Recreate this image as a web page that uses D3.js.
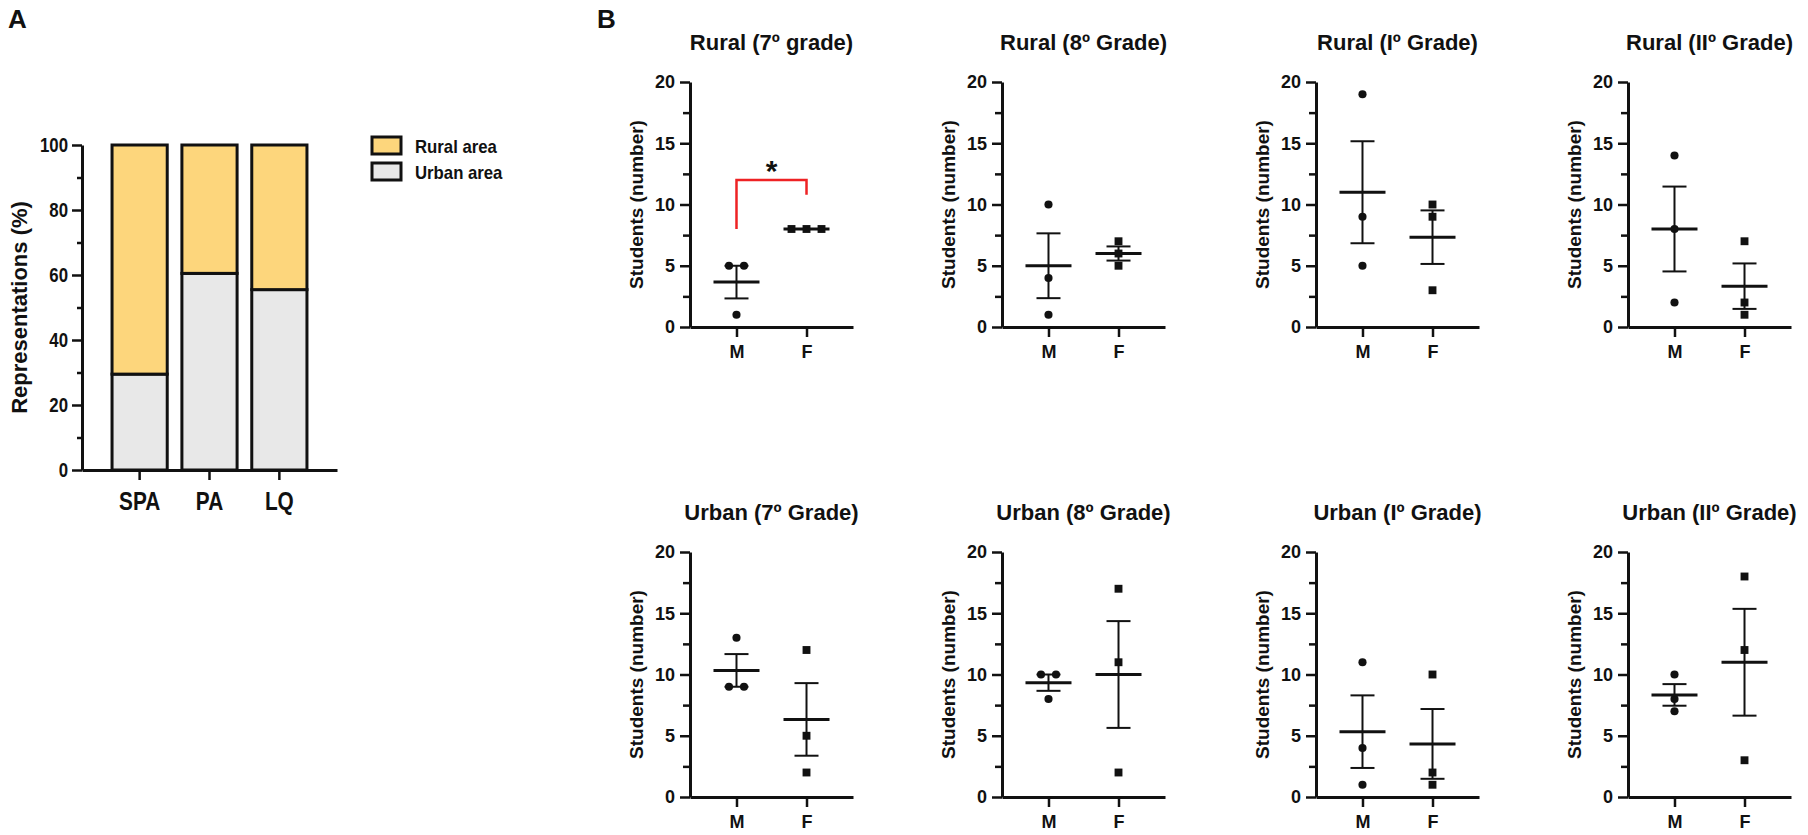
<!DOCTYPE html>
<html>
<head>
<meta charset="utf-8">
<script src="https://cdn.jsdelivr.net/npm/d3@7"></script>
<style>
  body { margin: 0; background: #fff; }
  text { font-family: "Liberation Sans", Arial, sans-serif; font-weight: bold; fill: #111; }
</style>
</head>
<body>
<div id="chart"></div>
<script>
// Panel A: share of representations by area
const sites = ["SPA", "PA", "LQ"];
const urbanShare = [29.5, 60.5, 55.5];
const ruralShare = [70.5, 39.5, 44.5];
const shareTicks = [0, 20, 40, 60, 80, 100];
const legendLabels = ["Rural area", "Urban area"];

// Panel B: students per grade and sex
const sexes = ["M", "F"];
const panelTitles = [
    "Rural (7º grade)", "Rural (8º Grade)", "Rural (Iº Grade)", "Rural (IIº Grade)",
    "Urban (7º Grade)", "Urban (8º Grade)", "Urban (Iº Grade)", "Urban (IIº Grade)"
];
const maleCounts = [[5, 5, 1], [10, 4, 1], [19, 9, 5], [14, 8, 2], [13, 9, 9], [10, 10, 8], [11, 4, 1], [10, 8, 7]];
const femaleCounts = [[8, 8, 8], [7, 6, 5], [10, 9, 3], [7, 2, 1], [12, 5, 2], [17, 11, 2], [10, 2, 1], [18, 12, 3]];
const countTicks = [0, 5, 10, 15, 20];
// significance bracket (values in students)
const brackets = [{ panel: 0, from: "M", to: "F", leftEnd: 8, top: 12, rightEnd: 10.8, label: "*" }];

const ruralColor = "#fdd67c";
const urbanColor = "#e8e8e8";
const ink = "#111";
const narrow = 0.8; // panel A text is a condensed face, squeeze Liberation Sans

const svg = d3.select("#chart")
    .append("svg")
    .attr("width", 1808)
    .attr("height", 835);

// ---------- Panel A ----------
svg.append("text").attr("x", 8).attr("y", 28).attr("font-size", 26).text("A");

const yShare = d3.scaleLinear().domain([0, 100]).range([470, 145]);
const xSite = d3.scaleBand().domain(sites).range([82, 337]).paddingInner(0.21).paddingOuter(0.43);

const shareTable = sites.map((s, i) => ({ site: s, urban: urbanShare[i], rural: ruralShare[i] }));
const stacked = d3.stack().keys(["urban", "rural"])(shareTable);

stacked.forEach(layer => {
    svg.append("g")
        .selectAll("rect")
        .data(layer)
        .enter()
        .append("rect")
        .attr("x", d => xSite(d.data.site))
        .attr("y", d => yShare(d[1]))
        .attr("width", xSite.bandwidth())
        .attr("height", d => yShare(d[0]) - yShare(d[1]))
        .attr("fill", layer.key === "rural" ? ruralColor : urbanColor)
        .attr("stroke", ink)
        .attr("stroke-width", 3);
});

// minor ticks
svg.append("g")
    .attr("transform", "translate(82,0)")
    .call(d3.axisLeft(yShare).tickValues(d3.pairs(shareTicks).map(p => (p[0] + p[1]) / 2)).tickSize(5).tickFormat(""))
    .call(g => g.select(".domain").remove())
    .selectAll("line").attr("stroke", ink).attr("stroke-width", 2.5);

const yAxisA = svg.append("g")
    .attr("transform", "translate(82,0)")
    .call(d3.axisLeft(yShare).tickValues(shareTicks).tickSize(10).tickSizeOuter(0).tickPadding(4))
    .attr("font-size", 21);
yAxisA.selectAll("text")
    .attr("x", -14 / narrow)
    .attr("transform", `scale(${narrow},1)`);

const xAxisA = svg.append("g")
    .attr("transform", "translate(0,470)")
    .call(d3.axisBottom(xSite).tickSize(10).tickSizeOuter(0))
    .attr("font-size", 26);
xAxisA.selectAll("text")
    .attr("y", 40).attr("dy", 0)
    .attr("transform", `scale(${narrow},1)`)
    .attr("x", 0);

[yAxisA, xAxisA].forEach(a => {
    a.select(".domain").attr("stroke", ink).attr("stroke-width", 3);
    a.selectAll(".tick line").attr("stroke", ink).attr("stroke-width", 2.5);
});

svg.append("text")
    .attr("transform", "rotate(-90)")
    .attr("x", -(470 + 145) / 2)
    .attr("y", 27)
    .attr("text-anchor", "middle")
    .attr("font-size", 22)
    .text("Representations (%)");

// legend
legendLabels.forEach((label, i) => {
    svg.append("rect")
        .attr("x", 372)
        .attr("y", 137 + i * 26)
        .attr("width", 29)
        .attr("height", 17)
        .attr("fill", i === 0 ? ruralColor : urbanColor)
        .attr("stroke", ink)
        .attr("stroke-width", 3);
    svg.append("text")
        .attr("transform", `translate(415,${153 + i * 26}) scale(0.93,1)`)
        .attr("font-size", 18)
        .text(label);
});

// ---------- Panel B ----------
svg.append("text").attr("x", 597).attr("y", 28).attr("font-size", 26).text("B");

const W = 163, H = 245;
const colX = [690, 1002, 1316, 1628];
const rowY = [82, 552];

const xSex = d3.scalePoint().domain(sexes).range([0, W]).padding(0.664);
const yCount = d3.scaleLinear().domain([0, 20]).range([H, 0]);

panelTitles.forEach((title, p) => {
    const g = svg.append("g")
        .attr("transform", `translate(${colX[p % 4]},${rowY[Math.floor(p / 4)]})`);

    g.append("text")
        .attr("x", W / 2)
        .attr("y", -32)
        .attr("text-anchor", "middle")
        .attr("font-size", 22)
        .text(title);

    g.append("text")
        .attr("transform", "rotate(-90)")
        .attr("x", -H / 2)
        .attr("y", -47)
        .attr("text-anchor", "middle")
        .attr("font-size", 19)
        .text("Students (number)");

    // minor ticks
    g.append("g")
        .call(d3.axisLeft(yCount).tickValues(d3.pairs(countTicks).map(q => (q[0] + q[1]) / 2)).tickSize(7).tickFormat(""))
        .call(a => a.select(".domain").remove())
        .selectAll("line").attr("stroke", ink).attr("stroke-width", 2.5);

    const ya = g.append("g")
        .call(d3.axisLeft(yCount).tickValues(countTicks).tickSize(10).tickSizeOuter(0).tickPadding(5))
        .attr("font-size", 18);

    const xa = g.append("g")
        .attr("transform", `translate(0,${H})`)
        .call(d3.axisBottom(xSex).tickSize(10).tickSizeOuter(0))
        .attr("font-size", 18);
    xa.selectAll("text").attr("y", 31).attr("dy", 0);

    [ya, xa].forEach(a => {
        a.select(".domain").attr("stroke", ink).attr("stroke-width", 3);
        a.selectAll(".tick line").attr("stroke", ink).attr("stroke-width", 2.5);
    });

    [maleCounts[p], femaleCounts[p]].forEach((vals, k) => {
        const sex = sexes[k];
        const cx = xSex(sex);

        // spread identical values side by side
        const pts = vals.map((v, i) => {
            const same = vals.filter(w => w === v).length;
            const idx = vals.slice(0, i).filter(w => w === v).length;
            return { v: v, dx: (idx - (same - 1) / 2) * 15 };
        });

        g.selectAll(null)
            .data(pts)
            .enter()
            .append("path")
            .attr("transform", d => `translate(${cx + d.dx},${yCount(d.v)})`)
            .attr("d", d3.symbol().type(sex === "M" ? d3.symbolCircle : d3.symbolSquare).size(sex === "M" ? 52 : 62))
            .attr("fill", ink);

        const mean = d3.mean(vals);
        const sem = d3.deviation(vals) / Math.sqrt(vals.length);

        g.append("line")
            .attr("x1", cx).attr("x2", cx)
            .attr("y1", yCount(mean - sem)).attr("y2", yCount(mean + sem))
            .attr("stroke", ink).attr("stroke-width", 2);
        [mean - sem, mean + sem].forEach(e => {
            g.append("line")
                .attr("x1", cx - 12).attr("x2", cx + 12)
                .attr("y1", yCount(e)).attr("y2", yCount(e))
                .attr("stroke", ink).attr("stroke-width", 2);
        });
        g.append("line")
            .attr("x1", cx - 23).attr("x2", cx + 23)
            .attr("y1", yCount(mean)).attr("y2", yCount(mean))
            .attr("stroke", ink).attr("stroke-width", 3);
    });

    brackets.filter(b => b.panel === p).forEach(b => {
        const x1 = xSex(b.from), x2 = xSex(b.to);
        g.append("path")
            .attr("d", `M${x1},${yCount(b.leftEnd)}V${yCount(b.top)}H${x2}V${yCount(b.rightEnd)}`)
            .attr("fill", "none")
            .attr("stroke", "#ee2224")
            .attr("stroke-width", 2.5);
        g.append("text")
            .attr("x", (x1 + x2) / 2)
            .attr("y", yCount(b.top) + 1)
            .attr("text-anchor", "middle")
            .attr("font-size", 30)
            .text(b.label);
    });
});
</script>
</body>
</html>
